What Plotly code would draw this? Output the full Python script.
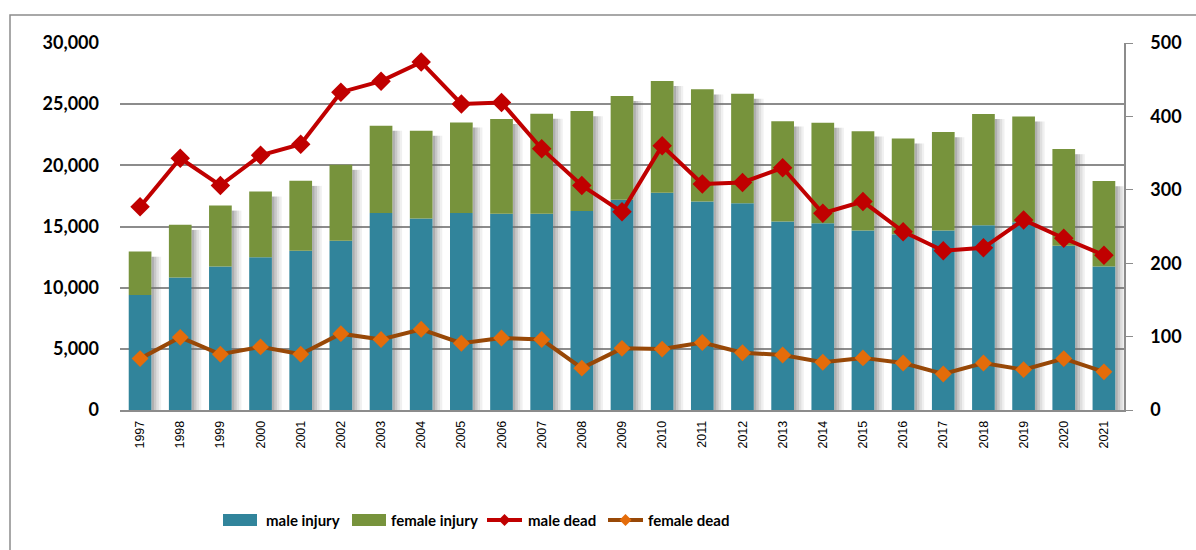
import plotly.graph_objects as go

years = [str(y) for y in range(1997, 2022)]
male_injury = [9400, 10830, 11730, 12490, 13010, 13830, 16100, 15660, 16100, 16040, 16040, 16260,
               17180, 17760, 17050, 16910, 15410, 15270, 14670, 14370, 14670, 15110, 15350, 13420, 11730]
total_injury = [12950, 15140, 16720, 17870, 18740, 20050, 23240, 22830, 23510, 23790, 24220, 24440,
                25670, 26900, 26220, 25860, 23600, 23490, 22780, 22200, 22720, 24200, 24000, 21330, 18710]
female_injury = [t - m for t, m in zip(total_injury, male_injury)]
male_dead = [277, 343, 306, 347, 362, 433, 448, 474, 417, 419, 356, 306, 270, 360, 308, 310, 330,
             268, 284, 243, 217, 221, 259, 234, 211]
female_dead = [70, 99, 76, 86, 76, 104, 96, 110, 91, 98, 96, 57, 84, 83, 92, 78, 75,
               65, 71, 64, 49, 64, 55, 70, 52]

# layout geometry (pixels)
W, H = 1196, 550
ML, MR, MT, MB = 120, 72, 43, 140
PW, PH = W - ML - MR, H - MT - MB

BAR_W = 0.565
BAR_OFF = -BAR_W / 2

fig = go.Figure()

# soft drop shadow to the right of each bar
shadow_steps = [(0.00, 0.55), (0.06, 0.38), (0.12, 0.22), (0.18, 0.10)]
for dx, op in shadow_steps:
    fig.add_trace(go.Bar(x=years, y=[t - 420 for t in total_injury], base=0,
                         width=0.062, offset=BAR_OFF + BAR_W + dx,
                         marker_color=f"rgba(110,110,110,{op})", marker_line_width=0,
                         showlegend=False, hoverinfo="skip"))

fig.add_trace(go.Bar(x=years, y=male_injury, base=0, name="male injury", marker_color="#31849B",
                     marker_line_width=0, width=BAR_W, offset=BAR_OFF))
fig.add_trace(go.Bar(x=years, y=female_injury, base=male_injury, name="female injury",
                     marker_color="#77933C", marker_line_width=0, width=BAR_W, offset=BAR_OFF))
fig.add_trace(go.Scatter(x=years, y=male_dead, name="male dead", yaxis="y2", mode="lines+markers",
                         line=dict(color="#C00000", width=4),
                         marker=dict(symbol="diamond", size=15, color="#C00000")))
fig.add_trace(go.Scatter(x=years, y=female_dead, name="female dead", yaxis="y2", mode="lines+markers",
                         line=dict(color="#984807", width=4),
                         marker=dict(symbol="diamond", size=13, color="#E46C0A")))


def px(x):
    return (x - ML) / PW


def py(y):
    return (H - MB - y) / PH


shapes = [dict(type="rect", xref="paper", yref="paper",
               x0=px(10), x1=px(1205), y0=py(560), y1=py(15),
               line=dict(color="#8c8c8c", width=1.5), layer="below")]
annotations = []
LEG_Y = 520
legend_font = dict(family="Lato", size=15, color="black", weight="bold")

# bar legend entries
for x0, x1, col, tx, label in [(223, 257, "#31849B", 264, "male injury"),
                               (352, 386, "#77933C", 389, "female injury")]:
    shapes.append(dict(type="rect", xref="paper", yref="paper", x0=px(x0), x1=px(x1),
                       y0=py(LEG_Y + 6), y1=py(LEG_Y - 6), fillcolor=col, line_width=0))
    annotations.append(dict(x=px(tx), y=py(LEG_Y), xref="paper", yref="paper", text=label,
                            showarrow=False, xanchor="left", yanchor="middle", font=legend_font))

# line legend entries
for x0, x1, lc, mc, tx, label in [(487, 522, "#C00000", "#C00000", 526, "male dead"),
                                  (608, 643, "#984807", "#E46C0A", 646, "female dead")]:
    shapes.append(dict(type="line", xref="paper", yref="paper", x0=px(x0), x1=px(x1),
                       y0=py(LEG_Y), y1=py(LEG_Y), line=dict(color=lc, width=4)))
    cx = (x0 + x1) / 2
    d = 6
    path = (f"M {px(cx)} {py(LEG_Y - d)} L {px(cx + d)} {py(LEG_Y)} "
            f"L {px(cx)} {py(LEG_Y + d)} L {px(cx - d)} {py(LEG_Y)} Z")
    shapes.append(dict(type="path", xref="paper", yref="paper", path=path,
                       fillcolor=mc, line_width=0))
    annotations.append(dict(x=px(tx), y=py(LEG_Y), xref="paper", yref="paper", text=label,
                            showarrow=False, xanchor="left", yanchor="middle", font=legend_font))

fig.update_layout(
    width=W, height=H,
    margin=dict(l=ML, r=MR, t=MT, b=MB, autoexpand=False),
    paper_bgcolor="white", plot_bgcolor="white",
    barmode="overlay",
    showlegend=False,
    xaxis=dict(type="category", range=[-0.5, 24.5], tickangle=-90, showgrid=False,
               automargin=False, ticklabelstandoff=4,
               tickfont=dict(family="Liberation Sans", size=12.5, color="black"),
               showline=True, linecolor="#8c8c8c", linewidth=1.5, ticks=""),
    yaxis=dict(range=[0, 30000], dtick=5000, tickformat=",", showgrid=True,
               gridcolor="#8c8c8c", gridwidth=1.5, zeroline=False, showline=False,
               automargin=False,
               tickfont=dict(family="Lato", size=18, color="black", weight="bold"),
               ticklabelstandoff=20),
    yaxis2=dict(range=[0, 500], dtick=100, overlaying="y", side="right", showgrid=False,
                zeroline=False, showline=True, linecolor="#8c8c8c", linewidth=1.5,
                automargin=False,
                ticks="outside", ticklen=7, tickcolor="#8c8c8c",
                tickfont=dict(family="Lato", size=18, color="black", weight="bold"),
                ticklabelstandoff=14),
    shapes=shapes,
    annotations=annotations,
)

fig.write_html("out.html", config={"displayModeBar": False},
               post_script="document.body.style.margin='0';document.body.style.overflow='hidden';")
